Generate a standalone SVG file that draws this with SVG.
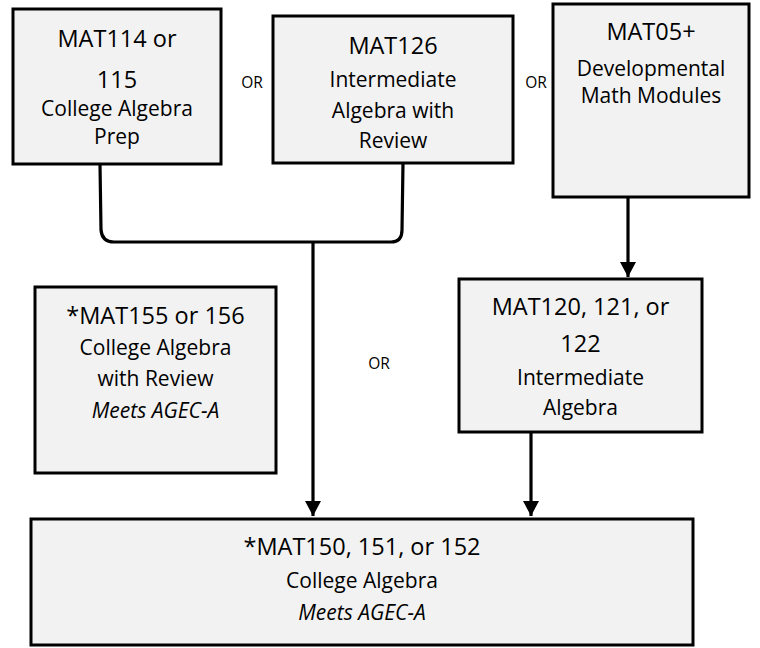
<svg xmlns="http://www.w3.org/2000/svg" width="760" height="648" viewBox="0 0 760 648">
<style>
.box{fill:#f2f2f2;stroke:#000;stroke-width:3}
text{font-family:"Open Sans","Noto Sans",sans-serif;fill:#000;text-anchor:middle}
.big{font-size:23.5px}
.sm{font-size:21px}
.it{font-style:italic}
.or{font-size:15.5px}
.ln{fill:none;stroke:#000;stroke-width:3.2}
</style>
<defs>
<marker id="arr" viewBox="0 0 10 10" refX="10" refY="5" markerWidth="15" markerHeight="16" markerUnits="userSpaceOnUse" orient="auto" preserveAspectRatio="none">
<path d="M0,0 L10,5 L0,10 z" fill="#000"/>
</marker>
</defs>
<rect width="760" height="648" fill="#fff"/>
<g id="connectors">
<path class="ln" d="M100,164 L101,230 Q102,242 114,242 L391,242 Q402,242 402,230 L403,163"/>
<path class="ln" d="M313,242 L313,516" marker-end="url(#arr)"/>
<path class="ln" d="M628,197 L628,277" marker-end="url(#arr)"/>
<path class="ln" d="M531,432 L531,516" marker-end="url(#arr)"/>
</g>
<g id="mat114">
<rect class="box" x="13" y="9" width="208" height="155"/>
<text class="big" x="117" y="47">MAT114 or</text>
<text class="big" x="117" y="88">115</text>
<text class="sm" x="117" y="116">College Algebra</text>
<text class="sm" x="117" y="144">Prep</text>
</g>
<g id="mat126">
<rect class="box" x="273" y="16" width="240" height="147"/>
<text class="big" x="393" y="54">MAT126</text>
<text class="sm" x="393" y="87">Intermediate</text>
<text class="sm" x="393" y="118">Algebra with</text>
<text class="sm" x="393" y="148">Review</text>
</g>
<g id="mat05">
<rect class="box" x="553" y="4" width="196" height="193"/>
<text class="big" x="651" y="40">MAT05+</text>
<text class="sm" x="651" y="76">Developmental</text>
<text class="sm" x="651" y="103">Math Modules</text>
</g>
<g id="mat155">
<rect class="box" x="35" y="287" width="241" height="186"/>
<text class="big" x="155.5" y="324">*MAT155 or 156</text>
<text class="sm" x="155.5" y="355">College Algebra</text>
<text class="sm" x="155.5" y="386">with Review</text>
<text class="sm it" x="155.5" y="418">Meets AGEC-A</text>
</g>
<g id="mat120">
<rect class="box" x="459" y="279" width="243" height="153"/>
<text class="big" x="580.5" y="315">MAT120, 121, or</text>
<text class="big" x="580.5" y="352">122</text>
<text class="sm" x="580.5" y="385">Intermediate</text>
<text class="sm" x="580.5" y="415">Algebra</text>
</g>
<g id="mat150">
<rect class="box" x="31" y="519" width="662" height="126"/>
<text class="big" x="362" y="555">*MAT150, 151, or 152</text>
<text class="sm" x="362" y="588">College Algebra</text>
<text class="sm it" x="362" y="620">Meets AGEC-A</text>
</g>
<g id="or-labels">
<text class="or" x="252" y="88">OR</text>
<text class="or" x="536" y="88">OR</text>
<text class="or" x="379" y="369">OR</text>
</g>
</svg>
